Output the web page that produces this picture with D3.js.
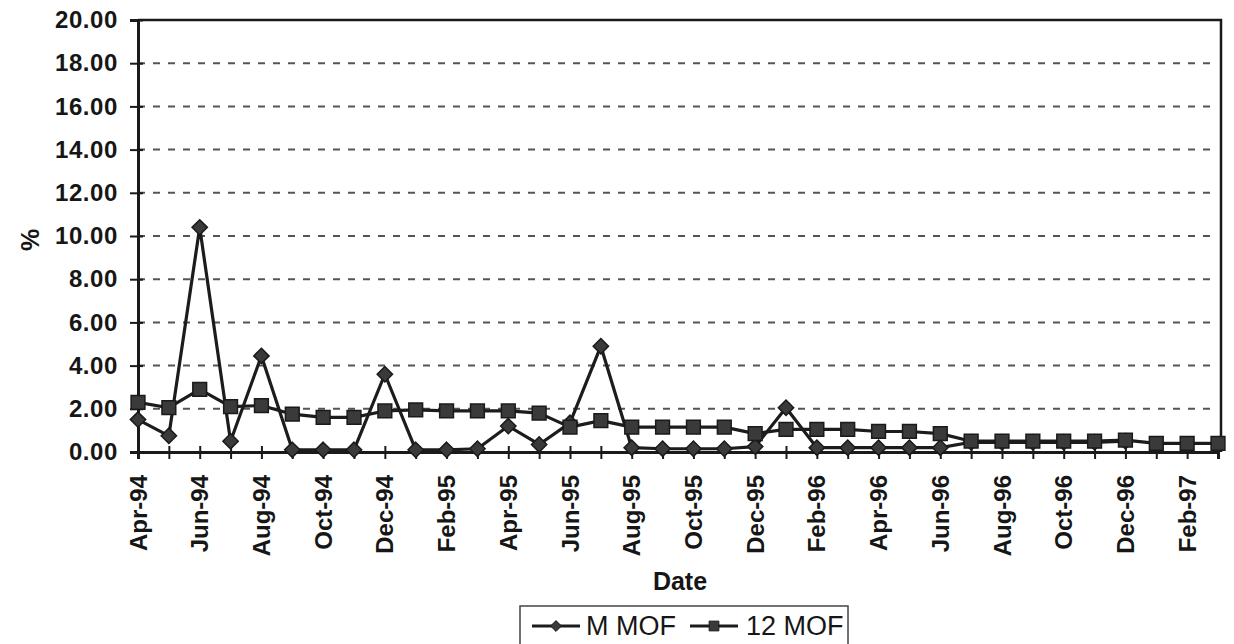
<!DOCTYPE html>
<html>
<head>
<meta charset="utf-8">
<script src="https://cdn.jsdelivr.net/npm/d3@7/dist/d3.min.js"></script>
<style>
  html, body { margin: 0; padding: 0; background: #fff; }
  svg { display: block; }
  text { font-family: "Liberation Sans", Arial, sans-serif; fill: #161616; }
</style>
</head>
<body>
<svg id="chart" width="1234" height="644"></svg>
<script>
// Monthly categories, Apr-94 .. Mar-97
const months = ["Apr-94","May-94","Jun-94","Jul-94","Aug-94","Sep-94","Oct-94","Nov-94","Dec-94",
  "Jan-95","Feb-95","Mar-95","Apr-95","May-95","Jun-95","Jul-95","Aug-95","Sep-95","Oct-95","Nov-95","Dec-95",
  "Jan-96","Feb-96","Mar-96","Apr-96","May-96","Jun-96","Jul-96","Aug-96","Sep-96","Oct-96","Nov-96","Dec-96",
  "Jan-97","Feb-97","Mar-97"];

// Monthly rate (%)
const mMOF = [1.5, 0.75, 10.4, 0.5, 4.45, 0.1, 0.1, 0.1, 3.6,
  0.1, 0.1, 0.15, 1.2, 0.35, 1.35, 4.9, 0.2, 0.15, 0.15, 0.15, 0.25,
  2.05, 0.2, 0.2, 0.2, 0.2, 0.2, 0.45, 0.45, 0.45, 0.45, 0.45, 0.5,
  null, null, null];

// 12-month rate (%)
const m12MOF = [2.3, 2.05, 2.9, 2.1, 2.15, 1.75, 1.6, 1.6, 1.9,
  1.95, 1.9, 1.9, 1.9, 1.8, 1.15, 1.45, 1.15, 1.15, 1.15, 1.15, 0.85,
  1.05, 1.05, 1.05, 0.95, 0.95, 0.85, 0.5, 0.5, 0.5, 0.5, 0.5, 0.55,
  0.4, 0.4, 0.4];

const yTicks = [0, 2, 4, 6, 8, 10, 12, 14, 16, 18, 20];
const seriesNames = ["M MOF", "12 MOF"];

const svg = d3.select("#chart");
const plotLeft = 138, plotRight = 1218, plotTop = 20, plotBottom = 452, frameRight = 1221;

const x = d3.scalePoint().domain(months).range([plotLeft, plotRight]);
const y = d3.scaleLinear().domain([0, 20]).range([plotBottom, plotTop]);

// dashed gridlines
svg.append("g").selectAll("line")
  .data(yTicks.filter(t => t > 0 && t < 20))
  .join("line")
  .attr("x1", plotLeft).attr("x2", frameRight - 3)
  .attr("y1", d => y(d)).attr("y2", d => y(d))
  .attr("stroke", "#555").attr("stroke-width", 2)
  .attr("stroke-dasharray", "7,8");

// frame top & right
svg.append("path")
  .attr("d", `M${plotLeft},${y(20)}H${frameRight}V${plotBottom}`)
  .attr("fill", "none").attr("stroke", "#1a1a1a").attr("stroke-width", 2.5);

// y axis
const yAxis = svg.append("g").attr("transform", `translate(${plotLeft},0)`)
  .call(d3.axisLeft(y).tickValues(yTicks).tickFormat(d3.format(".2f")).tickSize(8).tickPadding(12));
yAxis.select(".domain").attr("stroke", "#1a1a1a").attr("stroke-width", 3);
yAxis.selectAll(".tick line").attr("stroke", "#1a1a1a").attr("stroke-width", 2)
  .attr("x1", 5);
yAxis.selectAll(".tick text")
  .style("font-size", "24px").style("font-weight", "bold").style("letter-spacing", "0.6px")
  .attr("fill", "#161616");

// x axis
const xAxis = svg.append("g").attr("transform", `translate(0,${plotBottom})`)
  .call(d3.axisBottom(x).tickSize(7).tickFormat(""));
xAxis.select(".domain").attr("stroke", "#1a1a1a").attr("stroke-width", 3);
xAxis.selectAll(".tick line").attr("stroke", "#1a1a1a").attr("stroke-width", 2).attr("y1", -6);

svg.append("g").selectAll("text")
  .data(months.filter((m, i) => i % 2 === 0))
  .join("text")
  .attr("transform", d => `translate(${x(d)},${plotBottom + 23}) rotate(-90)`)
  .attr("dy", "0.36em")
  .attr("text-anchor", "end")
  .style("font-size", "24px").style("font-weight", "bold")
  .text(d => d);

// axis titles
svg.append("text")
  .attr("transform", `translate(30,240) rotate(-90)`)
  .attr("text-anchor", "middle").attr("dy", "0.35em")
  .style("font-size", "25px").style("font-weight", "bold")
  .text("%");
svg.append("text")
  .attr("x", 680).attr("y", 590).attr("text-anchor", "middle")
  .style("font-size", "25px").style("font-weight", "bold")
  .text("Date");

// series
const lineColor = "#1c1c1c";
const line = d3.line()
  .defined(d => d.v !== null)
  .x(d => x(d.m)).y(d => y(d.v));

const series = [
  { name: seriesNames[0], values: mMOF, symbol: d3.symbolDiamond2, size: 150 },
  { name: seriesNames[1], values: m12MOF, symbol: d3.symbolSquare, size: 190 }
];

series.forEach(s => {
  const pts = s.values.map((v, i) => ({ m: months[i], v }));
  const g = svg.append("g");
  g.append("path").datum(pts)
    .attr("d", line)
    .attr("fill", "none").attr("stroke", lineColor).attr("stroke-width", 3.2)
    .attr("stroke-linejoin", "round");
  g.selectAll("path.mk")
    .data(pts.filter(d => d.v !== null))
    .join("path").attr("class", "mk")
    .attr("transform", d => `translate(${x(d.m)},${y(d.v)})`)
    .attr("d", d3.symbol().type(s.symbol).size(s.size))
    .attr("fill", "#3a3a3a").attr("stroke", "#1a1a1a").attr("stroke-width", 1.5);
});

// legend
const lg = svg.append("g");
lg.append("rect")
  .attr("x", 520).attr("y", 606).attr("width", 328).attr("height", 50)
  .attr("fill", "#fff").attr("stroke", "#444").attr("stroke-width", 1.5);
const legendItems = [
  { s: series[0], x0: 532, tx: 586 },
  { s: series[1], x0: 690, tx: 746 }
];
legendItems.forEach(it => {
  const cy = 626;
  lg.append("line").attr("x1", it.x0).attr("x2", it.x0 + 48)
    .attr("y1", cy).attr("y2", cy)
    .attr("stroke", lineColor).attr("stroke-width", 3);
  lg.append("path")
    .attr("transform", `translate(${it.x0 + 24},${cy})`)
    .attr("d", d3.symbol().type(it.s.symbol).size(it.s.size * 0.5))
    .attr("fill", "#3a3a3a").attr("stroke", "#1a1a1a").attr("stroke-width", 1);
  lg.append("text").attr("x", it.tx).attr("y", cy).attr("dy", "0.35em")
    .style("font-size", "27px")
    .text(it.s.name);
});
</script>
</body>
</html>
